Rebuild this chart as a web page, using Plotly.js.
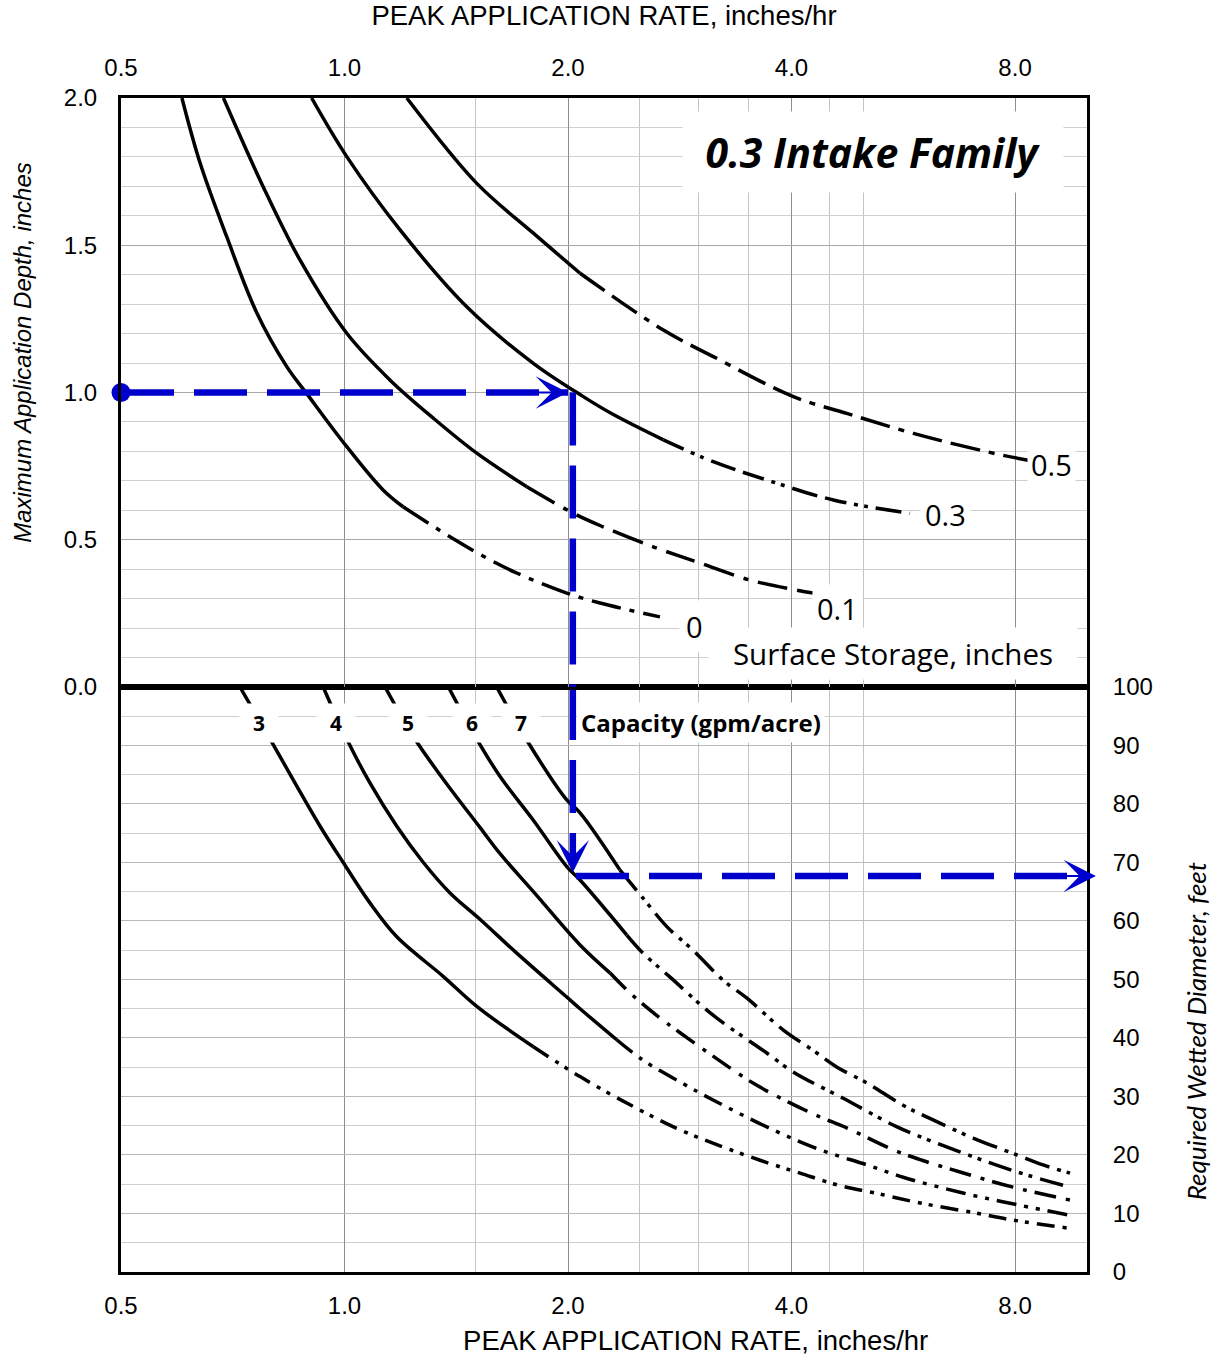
<!DOCTYPE html>
<html>
<head>
<meta charset="utf-8">
<script src="https://cdn.plot.ly/plotly-3.0.1.min.js"></script>
<style>
html,body{margin:0;padding:0;background:#ffffff;}
#chart{width:1220px;height:1356px;}
</style>
</head>
<body>
<div id="chart"></div>
<script>
// ---------- axis ticks ----------
const rateTicks     = [0.5, 1, 2, 4, 8];
const rateTickText  = ['0.5', '1.0', '2.0', '4.0', '8.0'];
const rateMinorGrid = [1.5, 2.5, 3, 3.5, 4.5, 5];
const depthTicks    = [0, 0.5, 1, 1.5, 2];
const depthTickText = ['0.0', '0.5', '1.0', '1.5', '2.0'];

// ---------- top panel: surface storage curves (rate in/hr -> max depth in) ----------
const storageLabels = ['0', '0.1', '0.3', '0.5'];
const ss0Rate   = [0.604, 0.639, 0.694, 0.762, 0.836, 0.889, 1.007, 1.127, 1.199, 1.387, 1.536, 1.706, 1.992, 2.209, 2.66];
const ss0Depth  = [2.00, 1.779, 1.529, 1.270, 1.088, 0.997, 0.816, 0.669, 0.612, 0.510, 0.445, 0.387, 0.319, 0.285, 0.238];
const ss01Rate  = [0.687, 0.777, 0.871, 1.007, 1.152, 1.317, 1.507, 1.760, 2.033, 2.229, 2.604, 3.012, 3.517, 4.275];
const ss01Depth = [2.00, 1.699, 1.450, 1.201, 1.042, 0.913, 0.794, 0.680, 0.590, 0.544, 0.476, 0.421, 0.363, 0.319];
const ss03Rate  = [0.903, 1.007, 1.188, 1.461, 1.796, 2.097, 2.302, 2.688, 3.138, 3.704, 4.554, 5.776];
const ss03Depth = [2.00, 1.801, 1.552, 1.291, 1.099, 0.986, 0.925, 0.839, 0.765, 0.703, 0.635, 0.590];
const ss05Rate  = [1.213, 1.507, 1.796, 2.076, 2.688, 3.138, 4.023, 4.747, 5.837, 7.328, 8.295, 9.687];
const ss05Depth = [2.00, 1.710, 1.541, 1.405, 1.212, 1.122, 0.986, 0.929, 0.861, 0.799, 0.771, 0.746];

// ---------- bottom panel: capacity curves (rate in/hr -> wetted diameter ft) ----------
const capLabels = ['3', '4', '5', '6', '7'];
const cap3Rate = [0.723, 0.794, 0.862, 0.927, 0.996, 1.082, 1.176, 1.359, 1.507, 1.796, 2.076, 2.447, 2.831, 3.185, 3.628, 4.107, 4.606, 5.184, 5.959, 7.067, 7.927, 9.43];
const cap3Diam = [100, 91.1, 83.1, 76.2, 70.0, 63.1, 57.3, 50.5, 45.4, 38.5, 33.4, 28.3, 24.3, 21.7, 19.1, 16.9, 14.9, 13.5, 11.8, 10.1, 8.9, 7.5];
const cap4Rate = [0.936, 1.007, 1.082, 1.176, 1.277, 1.387, 1.522, 1.706, 1.992, 2.076, 2.326, 2.524, 2.848, 3.136, 3.777, 4.370, 5.056, 5.653, 6.808, 8.050, 9.488];
const cap4Diam = [100, 91.1, 83.6, 76.2, 70.0, 64.8, 60.3, 54.5, 47.0, 45.0, 39.7, 36.2, 32.3, 29.4, 24.3, 20.9, 18.3, 16.2, 13.5, 11.5, 9.7];
const cap5Rate = [1.134, 1.244, 1.359, 1.522, 1.620, 1.794, 2.076, 2.279, 2.424, 2.661, 2.831, 3.136, 3.550, 3.982, 4.370, 4.752, 5.481, 5.996, 6.746, 7.950, 9.488];
const cap5Diam = [100, 91.1, 84.2, 76.0, 71.5, 65.1, 55.9, 51.1, 47.7, 43.4, 40.9, 36.9, 32.3, 28.9, 26.5, 24.6, 20.9, 19.1, 17.1, 14.5, 12.3];
const cap6Rate = [1.380, 1.507, 1.620, 1.794, 1.992, 2.076, 2.400, 2.524, 2.745, 3.136, 3.708, 4.019, 4.694, 5.548, 6.109, 7.023, 8.050, 9.488];
const cap6Diam = [100, 91.1, 84.7, 77.3, 69.3, 67.0, 57.6, 54.5, 50.4, 43.9, 37.4, 34.2, 29.7, 24.8, 22.6, 19.7, 17.1, 14.5];
const cap7Rate = [1.603, 1.760, 1.992, 2.076, 2.350, 2.524, 2.719, 2.948, 3.234, 3.484, 3.896, 4.275, 4.606, 5.056, 5.653, 6.204, 7.023, 8.050, 8.726, 9.488];
const cap7Diam = [100, 90.9, 80.7, 78.5, 68.7, 63.9, 59.0, 55.0, 49.9, 46.8, 41.4, 37.9, 35.0, 32.3, 28.5, 26.0, 22.9, 20.0, 18.3, 16.9];

// ---------- worked example (blue path) ----------
const exampleStartRate = [0.5];
const exampleDepth     = [1.0];
const exampleRate      = [2.0];
const exampleReadRate  = [2.03];
const exampleDiameter  = [67.7];
const diameterAxisMax  = [100];
const rateAxisMax      = [10];

// ---------- build traces ----------
const BLACK = '#000000';
const BLUE = '#0000cc';
const lg = v => Math.log10(v);

function curveTraces(rate, val, solidEnd, dash, xa, ya) {
  const base = {type: 'scatter', mode: 'lines', xaxis: xa, yaxis: ya, hoverinfo: 'skip', showlegend: false};
  return [
    Object.assign({}, base, {x: rate.slice(0, solidEnd + 1), y: val.slice(0, solidEnd + 1),
      line: {color: BLACK, width: 3.5, shape: 'spline', smoothing: 1.0}}),
    Object.assign({}, base, {x: rate.slice(solidEnd), y: val.slice(solidEnd),
      line: {color: BLACK, width: 3.5, shape: 'spline', smoothing: 1.0, dash: dash}})
  ];
}

let traces = [];
traces = traces.concat(curveTraces(ss0Rate,  ss0Depth,  8, '30px,9px,5px,9px', 'x2', 'y'));
traces = traces.concat(curveTraces(ss01Rate, ss01Depth, 7, '32px,10px,5px,10px,30px,10px', 'x2', 'y'));
traces = traces.concat(curveTraces(ss03Rate, ss03Depth, 7, '22px,8px,4px,6px,4px,8px,26px,8px', 'x2', 'y'));
traces = traces.concat(curveTraces(ss05Rate, ss05Depth, 3, '30px,9px,30px,9px,6px,9px', 'x2', 'y'));

traces = traces.concat(curveTraces(cap3Rate, cap3Diam, 9, '18px,8px,4px,7px,4px,8px', 'x', 'y2'));
traces = traces.concat(curveTraces(cap4Rate, cap4Diam, 10, '20px,8px,4px,8px,4px,8px', 'x', 'y2'));
traces = traces.concat(curveTraces(cap5Rate, cap5Diam, 7, '22px,10px,4px,8px', 'x', 'y2'));
traces = traces.concat(curveTraces(cap6Rate, cap6Diam, 6, '24px,8px,4px,6px,4px,8px', 'x', 'y2'));
traces = traces.concat(curveTraces(cap7Rate, cap7Diam, 4, '26px,8px,4px,6px,4px,8px', 'x', 'y2'));

const blueLine = {color: BLUE, width: 6.5, dash: '53px,20px'};
traces.push({type: 'scatter', mode: 'lines', xaxis: 'x2', yaxis: 'y', hoverinfo: 'skip',
  x: [exampleStartRate[0], exampleRate[0]], y: [exampleDepth[0], exampleDepth[0]], line: blueLine});
traces.push({type: 'scatter', mode: 'lines', xaxis: 'x2', yaxis: 'y', hoverinfo: 'skip',
  x: [exampleReadRate[0], exampleReadRate[0]], y: [exampleDepth[0], 0], line: blueLine});
traces.push({type: 'scatter', mode: 'lines', xaxis: 'x', yaxis: 'y2', hoverinfo: 'skip',
  x: [exampleReadRate[0], exampleReadRate[0]], y: [diameterAxisMax[0], exampleDiameter[0] + 2], line: blueLine});
traces.push({type: 'scatter', mode: 'lines', xaxis: 'x', yaxis: 'y2', hoverinfo: 'skip',
  x: [2.05, rateAxisMax[0]], y: [exampleDiameter[0], exampleDiameter[0]], line: blueLine});
traces.push({type: 'scatter', mode: 'markers', xaxis: 'x2', yaxis: 'y', hoverinfo: 'skip', cliponaxis: false,
  x: exampleStartRate, y: exampleDepth, marker: {color: BLUE, size: 19}});

// ---------- annotations ----------
const calib = '"Open Sans", Lato, "Noto Sans", sans-serif';
const ann = [];
function label(text, xv, yv, xa, ya, size, pad, opts) {
  ann.push(Object.assign({text: text, x: lg(xv), y: yv, xref: xa, yref: ya, showarrow: false,
    bgcolor: '#ffffff', borderpad: pad, font: {family: calib, size: size, color: '#000'}}, opts || {}));
}
label('<b><i>0.3 Intake Family</i></b>', 5.15, 1.817, 'x2', 'y', 41, 12, {width: 356});
label(storageLabels[3], 8.97, 0.754, 'x2', 'y', 29, 3);
label(storageLabels[2], 6.44, 0.587, 'x2', 'y', 29, 4);
label(storageLabels[1], 4.61, 0.268, 'x2', 'y', 29, 4);
label(storageLabels[0], 2.96, 0.204, 'x2', 'y', 29, 6);
label('Surface Storage, inches', 5.48, 0.115, 'x2', 'y', 29.5, 5, {width: 358});

const capX = [0.767, 0.974, 1.218, 1.485, 1.730];
capLabels.forEach((t, i) => label('<b>' + t + '</b>', capX[i], 93.8, 'x', 'y2', 21, 5, {width: 28}));
label('<b>Capacity (gpm/acre)</b>', 2.055, 94.0, 'x', 'y2', 24, 3, {xanchor: 'left'});

function arrowHead(xv, yv, axv, ayv, xa, ya) {
  ann.push({text: '', x: lg(xv), y: yv, ax: lg(axv), ay: ayv, xref: xa, yref: ya, axref: xa, ayref: ya,
    showarrow: true, arrowhead: 3, arrowsize: 2.7, arrowwidth: 2, arrowcolor: BLUE, standoff: 0});
}
arrowHead(exampleRate[0], exampleDepth[0], 1.8, exampleDepth[0], 'x2', 'y');
arrowHead(exampleReadRate[0], exampleDiameter[0] + 0.6, exampleReadRate[0], exampleDiameter[0] + 7, 'x', 'y2');
arrowHead(10.28, exampleDiameter[0], 8.8, exampleDiameter[0], 'x', 'y2');

// ---------- layout ----------
const arial = '"Liberation Sans", Arial, sans-serif';
const xCommon = {
  type: 'log', range: [lg(0.5), lg(10)],
  tickmode: 'array', tickvals: rateTicks, ticktext: rateTickText,
  ticks: '', showgrid: true, gridcolor: '#8e8e8e', gridwidth: 1, zeroline: false,
  minor: {tickmode: 'array', tickvals: rateMinorGrid, showgrid: true, gridcolor: '#c4c4c4', gridwidth: 1, ticks: ''},
  showline: true, linecolor: '#000', linewidth: 3, mirror: true,
  tickfont: {family: arial, size: 24, color: '#000'}, fixedrange: true
};
const nb = n => '&nbsp;'.repeat(n);
const layout = {
  width: 1220, height: 1356,
  margin: {l: 121, r: 133, t: 98, b: 84},
  paper_bgcolor: '#ffffff', plot_bgcolor: '#ffffff',
  showlegend: false,
  font: {family: arial, color: '#000'},
  xaxis: Object.assign({}, xCommon, {
    anchor: 'y2', side: 'bottom', ticklabelstandoff: 10,
    title: {text: nb(24) + 'PEAK APPLICATION RATE, inches/hr', font: {family: arial, size: 27.5, color: '#000'}, standoff: 13}
  }),
  xaxis2: Object.assign({}, xCommon, {
    anchor: 'y', side: 'top', matches: 'x', ticklabelstandoff: 9,
    title: {text: 'PEAK APPLICATION RATE, inches/hr', font: {family: arial, size: 27.5, color: '#000'}, standoff: 30}
  }),
  yaxis: {
    domain: [0.4983, 1], anchor: 'x2', range: [0, 2],
    tickmode: 'array', tickvals: depthTicks, ticktext: depthTickText,
    ticks: '', ticklabelstandoff: 16,
    showgrid: true, gridcolor: '#a8a8a8', gridwidth: 1, zeroline: false,
    minor: {dtick: 0.1, tick0: 0, showgrid: true, gridcolor: '#cfcfcf', gridwidth: 1, ticks: ''},
    showline: true, linecolor: '#000', linewidth: 3, mirror: true,
    tickfont: {family: arial, size: 24, color: '#000'}, fixedrange: true,
    title: {text: '<i>' + nb(12) + 'Maximum Application Depth, inches</i>', font: {family: arial, size: 24, color: '#000'}, standoff: 26}
  },
  yaxis2: {
    domain: [0, 0.4983], anchor: 'x', side: 'right', range: [0, 100],
    tickmode: 'linear', tick0: 0, dtick: 10,
    ticks: '', ticklabelstandoff: 18,
    showgrid: true, gridcolor: '#b8b8b8', gridwidth: 1, zeroline: false,
    minor: {dtick: 5, tick0: 0, showgrid: true, gridcolor: '#cfcfcf', gridwidth: 1, ticks: ''},
    showline: true, linecolor: '#000', linewidth: 3, mirror: true,
    tickfont: {family: arial, size: 24, color: '#000'}, fixedrange: true,
    title: {text: '<i>Required Wetted Diameter, feet' + nb(17) + '</i>', font: {family: 'Lato, "Open Sans", sans-serif', size: 26, color: '#000'}, standoff: 36}
  },
  annotations: ann
};

Plotly.newPlot('chart', traces, layout, {displayModeBar: false, staticPlot: true});
</script>
</body>
</html>
